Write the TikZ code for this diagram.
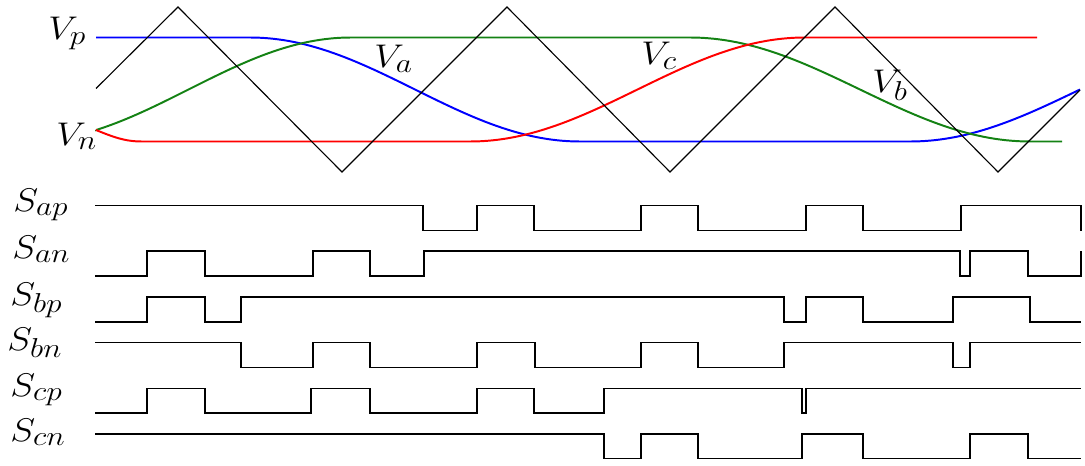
\documentclass[tikz,border=0pt]{standalone}
\definecolor{vgreen}{RGB}{20,130,20}
\tikzset{
  lab/.style={font=\fontsize{19}{22}\selectfont, inner sep=0pt, xscale=1.55, yscale=1.35, anchor=base west},
  sig/.style={line width=1.4pt},
  carrier/.style={line width=0.8pt, black},
  pulse/.style={line width=1.2pt, black},
}
\begin{document}
\begin{tikzpicture}[x=0.025cm,y=-0.025cm]
\useasboundingbox (0,0) rectangle (1085,466);
% labels
\node[lab] (vp) at (48,40) {$V_p$};
\node[lab] (vn) at (56,145) {$V_n$};
\node[lab] (va) at (374,68) {$V_a$};
\node[lab] (vc) at (641,65) {$V_c$};
\node[lab] (vb) at (872,93) {$V_b$};
\node[lab] (sap) at (13,211) {$S_{ap}$};
\node[lab] (san) at (12,258) {$S_{an}$};
\node[lab] (sbp) at (10,305) {$S_{bp}$};
\node[lab] (sbn) at (7,350) {$S_{bn}$};
\node[lab] (scp) at (10,396) {$S_{cp}$};
\node[lab] (scn) at (10,441) {$S_{cn}$};
% modulating signals
\draw[sig,blue] (96,37.5) -- (250,37.5)
  -- plot[domain=250:580,samples=60] (\x,{89.5-52*cos((\x-250)/330*180)})
  -- (910,141.5)
  -- plot[domain=910:1080,samples=40] (\x,{89.5+52*cos((\x-910)/340*180)});
\draw[sig,vgreen] (96,130)
  -- plot[domain=96:351,samples=50] (\x,{89.5+52*cos((\x-26)/325*180)})
  -- (690,37.5)
  -- plot[domain=690:1030,samples=60] (\x,{89.5-52*cos((\x-690)/340*180)})
  -- (1062,141.5);
\draw[sig,red] (96,130) .. controls (112,136.5) and (124,141.5) .. (142,141.5)
  -- (470,141.5)
  -- plot[domain=470:805,samples=60] (\x,{89.5+52*cos((\x-470)/335*180)})
  -- (1037,37.5);
% carrier
\draw[carrier] (96,88.5) -- (178,7) -- (342,172) -- (507,7) -- (670,172) -- (835,7) -- (998,172) -- (1080,90);
% gate pulses
\draw[pulse] (95,205.5) -| (423,230.5) -| (477,205.5) -| (534,230.5) -| (641,205.5) -| (698,230.5) -| (806,205.5) -| (863,230.5) -| (961,205.5) -| (1081,230.5);
\draw[pulse] (95,276) -| (147,251) -| (205,276) -| (313,251) -| (370,276) -| (424,251) -| (960,276) -| (970,251) -| (1028,276) -| (1081,251);
\draw[pulse] (95,322) -| (147,297) -| (205,322) -| (241,297) -| (784,322) -| (806,297) -| (863,322) -| (953,297) -| (1030,322) -- (1081,322);
\draw[pulse] (95,342.5) -| (241,367.5) -| (313,342.5) -| (370,367.5) -| (477,342.5) -| (535,367.5) -| (641,342.5) -| (698,367.5) -| (784,342.5) -| (953,367.5) -| (970,342.5) -- (1081,342.5);
\draw[pulse] (95,413) -| (147,388.5) -| (205,413) -| (311,388.5) -| (370,413) -| (477,388.5) -| (534,413) -| (604,388.5) -| (802,413) -| (806,388.5) -- (1081,388.5);
\draw[pulse] (95,434) -| (604,458.5) -| (641,434) -| (698,458.5) -| (802,434) -| (863,458.5) -| (970,434) -| (1028,458.5) -- (1081,458.5);
\end{tikzpicture}
\end{document}
